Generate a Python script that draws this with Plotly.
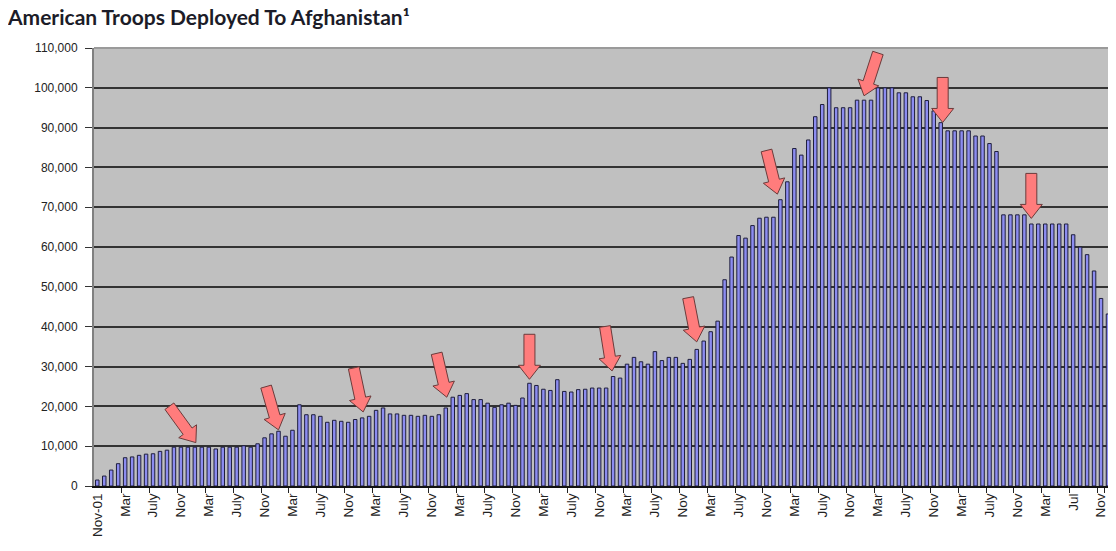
import math
import pandas as pd
import plotly.graph_objects as go

# ---- data -------------------------------------------------------------
troops = [
    1500, 2500, 4000, 5600, 7100, 7300, 7700, 8000, 8100, 8700, 9000, 9750,
    9750, 9750, 9750, 9750, 9750, 9300, 9750, 9750, 9750, 10100, 9750, 10600,
    12100, 13100, 13750, 12500, 14000, 20400, 17900, 17900, 17500, 16000, 16500, 16250,
    16000, 16700, 17100, 17500, 19000, 19600, 18100, 18100, 17750, 17750, 17500, 17750,
    17500, 17900, 19600, 22300, 22750, 23200, 21700, 21700, 20800, 19750, 20400, 20800,
    20250, 22100, 25800, 25250, 24300, 24000, 26700, 23750, 23600, 24200, 24300, 24600,
    24600, 24600, 27500, 27100, 30600, 32300, 31200, 30600, 33750, 31500, 32300, 32300,
    30800, 31800, 34300, 36400, 38750, 41400, 51800, 57500, 62900, 62250, 65400, 67250,
    67500, 67500, 71900, 76400, 84750, 83100, 86900, 92750, 95800, 100000, 95000, 95000,
    95000, 96900, 96900, 96900, 100000, 100000, 100000, 98750, 98750, 97750, 97750, 96800,
    94200, 91250, 89200, 89200, 89200, 89200, 87900, 87900, 86000, 84000, 68100, 68100,
    68100, 68100, 65800, 65800, 65800, 65800, 65800, 65800, 63100, 60000, 58100, 54000,
    47100, 43200,
]
months = list(pd.period_range("2001-11", periods=len(troops), freq="M").strftime("%b-%y"))

tick_labels = ["Nov-01"] + ["Mar", "July", "Nov"] * 11 + ["Mar", "Jul", "Nov"]

# winter markers (arrow tips)
arrow_months = ["Jan-03", "Jan-04", "Jan-05", "Jan-06", "Jan-07", "Jan-08",
                "Jan-09", "Jan-10", "Jan-11", "Jan-12", "Jan-13"]
arrow_values = [10900, 14100, 18600, 22300, 26800, 28900, 36200, 73300, 98000, 91300, 67200]

# arrow styling (tilt in degrees from vertical, pixel nudge)
arrow_tilt = [36, 16, 12, 13, 0, 9, 11, 14, -18, 0, 0]
arrow_nudge = [1, 0, 1, 1, 0, -1, 0, -3, 0, -5, 0]

# ---- figure -----------------------------------------------------------
# page body adds an 8px margin; keep the figure inside the visible page
fig = go.Figure()
fig.add_trace(go.Bar(
    x=months, y=troops,
    marker=dict(color="#8C8CF0", line=dict(color="#1E1E3C", width=1)),
    hoverinfo="x+y",
))

tickvals = months[::4]
shapes = []

L, H, W, S = 45, 14, 11, 5.5
for m, v, th, dx in zip(arrow_months, arrow_values, arrow_tilt, arrow_nudge):
    t = math.radians(th)
    vx, vy = math.sin(t), math.cos(t)        # pointing direction (screen, y down)
    nx, ny = math.cos(t), -math.sin(t)       # perpendicular
    local = [(0, 0), (H, W), (H, S), (L, S), (L, -S), (H, -S), (H, -W)]
    pts = []
    for a, p in local:
        sx = -a * vx + p * nx + dx
        sy = -a * vy + p * ny
        pts.append((sx, -sy))
    path = "M " + " L ".join(f"{x:.2f},{y:.2f}" for x, y in pts) + " Z"
    shapes.append(dict(
        type="path", xref="x", yref="y",
        xsizemode="pixel", ysizemode="pixel",
        xanchor=m, yanchor=v, path=path,
        fillcolor="#FF7C7C", line=dict(color="#6B3B3B", width=1),
        layer="above",
    ))

# lighter top border of plot area
shapes.append(dict(type="line", xref="paper", yref="paper", x0=0, x1=1, y0=1, y1=1,
                   line=dict(color="#9A9A9A", width=2), layer="above"))

FIG_W, FIG_H = 1100, 535
fig.update_layout(
    width=FIG_W, height=FIG_H,
    margin=dict(l=86, r=0, t=40, b=57),
    paper_bgcolor="white",
    plot_bgcolor="#C0C0C0",
    bargap=0.5,
    showlegend=False,
    shapes=shapes,
    font=dict(family="Liberation Sans, Arial, sans-serif", size=12, color="#222222"),
    title=dict(
        text="<b>American Troops Deployed To Afghanistan¹</b>",
        font=dict(family="Lato, sans-serif", size=21, color="#1C1C28"),
        x=0, xanchor="left", xref="container",
        y=1 - 2 / FIG_H, yanchor="top", yref="container",
        pad=dict(t=0, b=0, l=0, r=0),
    ),
    xaxis=dict(
        type="category",
        categoryorder="array", categoryarray=months,
        range=[-0.47, len(troops) - 1.0],
        tickmode="array", tickvals=tickvals, ticktext=tick_labels,
        tickangle=-90,
        ticks="outside", ticklen=5, tickcolor="#222222",
        tickson="boundaries",
        showgrid=False,
        showline=True, linecolor="#111111", linewidth=2,
        tickfont=dict(size=13.5, color="#222222"),
    ),
    yaxis=dict(
        range=[0, 110000], dtick=10000, tickformat=",d",
        ticks="outside", ticklen=7, tickcolor="#333333",
        showgrid=True, gridcolor="#333333", gridwidth=1.5,
        zeroline=False,
        showline=True, linecolor="#808080", linewidth=2,
        ticklabelstandoff=5,
        tickfont=dict(size=12, color="#222222"),
    ),
)

fig.write_html("out.html")
